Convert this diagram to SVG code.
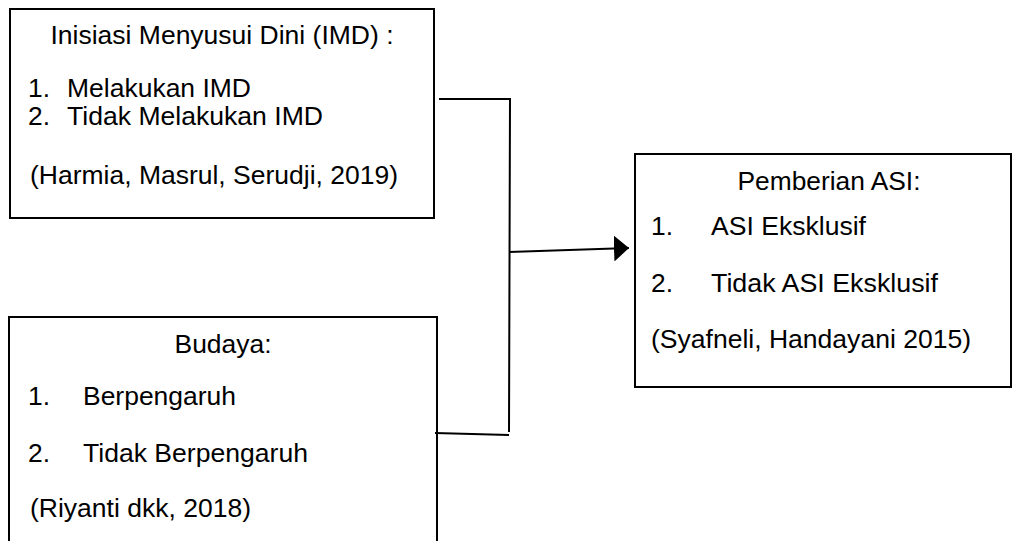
<svg xmlns="http://www.w3.org/2000/svg" width="1014" height="541" viewBox="0 0 1014 541">
<defs>
<style>
.box{fill:#fff;stroke:#000;stroke-width:2}
.t{font-family:"Liberation Sans",Arial,sans-serif;font-size:25px;fill:#000}
.c{text-anchor:middle}
.ln{fill:none;stroke:#000;stroke-width:2}
</style>
<marker id="ah" markerWidth="15" markerHeight="26" refX="15" refY="13" orient="auto" markerUnits="userSpaceOnUse">
<path d="M0,0 L15,13 L0,26 Z" fill="#000"/>
</marker>
</defs>
<rect width="1014" height="541" fill="#fff"/>
<g id="imd">
<rect class="box" x="10" y="9" width="424" height="209"/>
<text class="t c" x="222" y="44" textLength="343" lengthAdjust="spacingAndGlyphs">Inisiasi Menyusui Dini (IMD) :</text>
<text class="t" x="28" y="97" textLength="22" lengthAdjust="spacingAndGlyphs">1.</text><text class="t" x="67" y="97" textLength="184" lengthAdjust="spacingAndGlyphs">Melakukan IMD</text>
<text class="t" x="28" y="125" textLength="22" lengthAdjust="spacingAndGlyphs">2.</text><text class="t" x="67" y="125" textLength="256" lengthAdjust="spacingAndGlyphs">Tidak Melakukan IMD</text>
<text class="t" x="30" y="184" textLength="368" lengthAdjust="spacingAndGlyphs">(Harmia, Masrul, Serudji, 2019)</text>
</g>
<g id="budaya">
<rect class="box" x="9" y="317" width="428" height="240"/>
<text class="t c" x="223" y="353" textLength="97" lengthAdjust="spacingAndGlyphs">Budaya:</text>
<text class="t" x="28" y="405" textLength="22" lengthAdjust="spacingAndGlyphs">1.</text><text class="t" x="83" y="405" textLength="153" lengthAdjust="spacingAndGlyphs">Berpengaruh</text>
<text class="t" x="28" y="462" textLength="22" lengthAdjust="spacingAndGlyphs">2.</text><text class="t" x="83" y="462" textLength="225" lengthAdjust="spacingAndGlyphs">Tidak Berpengaruh</text>
<text class="t" x="30" y="517" textLength="221" lengthAdjust="spacingAndGlyphs">(Riyanti dkk, 2018)</text>
</g>
<g id="asi">
<rect class="box" x="635" y="154" width="376" height="233"/>
<text class="t c" x="829" y="190" textLength="183" lengthAdjust="spacingAndGlyphs">Pemberian ASI:</text>
<text class="t" x="651" y="235" textLength="22" lengthAdjust="spacingAndGlyphs">1.</text><text class="t" x="711" y="235" textLength="155" lengthAdjust="spacingAndGlyphs">ASI Eksklusif</text>
<text class="t" x="651" y="292" textLength="22" lengthAdjust="spacingAndGlyphs">2.</text><text class="t" x="711" y="292" textLength="227" lengthAdjust="spacingAndGlyphs">Tidak ASI Eksklusif</text>
<text class="t" x="651" y="348" textLength="320" lengthAdjust="spacingAndGlyphs">(Syafneli, Handayani 2015)</text>
</g>
<g id="connectors">
<polyline class="ln" points="439,99 510,99 509,432"/>
<line class="ln" x1="435" y1="433" x2="509" y2="435"/>
<line class="ln" x1="509" y1="252" x2="629" y2="248" marker-end="url(#ah)"/>
</g>
</svg>
